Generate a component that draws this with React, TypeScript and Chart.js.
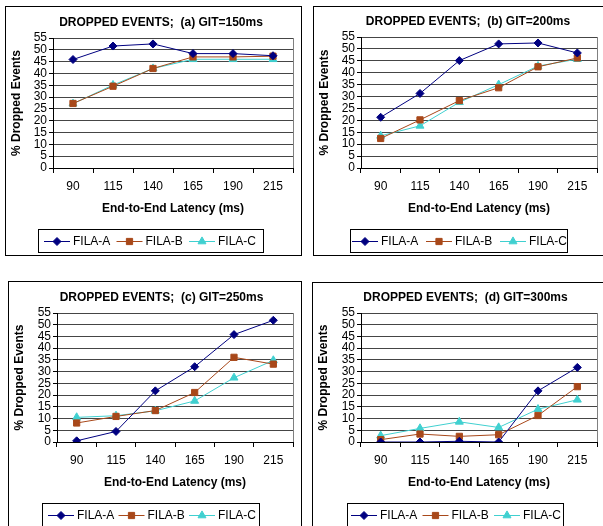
import React, { useEffect, useRef } from 'react';
import { Chart, registerables } from 'chart.js';

Chart.register(...registerables);
Chart.defaults.font.family = '"Liberation Sans", Arial, sans-serif';

// ---------------- data ----------------
const CATEGORIES = ['90', '115', '140', '165', '190', '215'];
const SERIES_NAMES = ['FILA-A', 'FILA-B', 'FILA-C'];
const PANEL_TITLES = [
  'DROPPED EVENTS;  (a) GIT=150ms',
  'DROPPED EVENTS;  (b) GIT=200ms',
  'DROPPED EVENTS;  (c) GIT=250ms',
  'DROPPED EVENTS;  (d) GIT=300ms',
];
const X_TITLE = 'End-to-End Latency (ms)';
const Y_TITLE = '% Dropped Events';
const Y_MIN = 0;
const Y_MAX = 55;
const Y_STEP = 5;

const GIT150_A = [45.9, 51.6, 52.5, 48.4, 48.4, 47.5];
const GIT150_B = [27.3, 34.6, 42.1, 47, 47, 47.3];
const GIT150_C = [27.2, 35.1, 42.1, 46, 46, 46];

const GIT200_A = [21.3, 31.3, 45.1, 52.1, 52.5, 48.3];
const GIT200_B = [12.4, 20.2, 28.3, 33.7, 42.5, 46.2];
const GIT200_C = [13.5, 17.7, 27.6, 35, 42.8, 45.7];

const GIT250_A = [0.5, 4.5, 21.8, 32.1, 45.8, 51.9];
const GIT250_B = [8.1, 10.9, 13.4, 21.1, 36.1, 33.2];
const GIT250_C = [10.5, 11.2, 13.3, 17.5, 27.4, 34.8];

const GIT300_A = [0, 0, 0.3, 0, 21.8, 31.8];
const GIT300_B = [1, 3.4, 2.4, 3.1, 11.3, 23.6];
const GIT300_C = [2.7, 5.8, 8.6, 6.2, 14, 18];

const PANEL_SERIES = [
  [GIT150_A, GIT150_B, GIT150_C],
  [GIT200_A, GIT200_B, GIT200_C],
  [GIT250_A, GIT250_B, GIT250_C],
  [GIT300_A, GIT300_B, GIT300_C],
];

// ---------------- styles & layout ----------------
const SERIES_STYLES = [
  { color: '#000080', pointStyle: 'rectRot', radius: 4 },
  { color: '#A8481A', pointStyle: 'rect', radius: 4.4 },
  { color: '#40D0D0', pointStyle: 'triangle', radius: 4.6 },
];

const PANEL_LAYOUT = [
  { left: 5, top: 6, width: 297, height: 250, plot: { l: 47, r: 287, t: 31, b: 161 }, titleY: 16, titleX: 155,
    legend: { x: 32, y: 222, w: 225, h: 23, text0: 35, stride: 72.5 } },
  { left: 313, top: 6, width: 300, height: 250, plot: { l: 47, r: 283, t: 30, b: 161 }, titleY: 14.7, titleX: 154,
    legend: { x: 36, y: 222, w: 217, h: 23, text0: 31, stride: 74 } },
  { left: 8, top: 281, width: 294, height: 260, plot: { l: 48, r: 284, t: 31, b: 160 }, titleY: 16, titleX: 152.5,
    legend: { x: 33, y: 221, w: 217, h: 23, text0: 35, stride: 70.5 } },
  { left: 312, top: 282, width: 300, height: 260, plot: { l: 48, r: 284, t: 30, b: 159 }, titleY: 15, titleX: 152.5,
    legend: { x: 34, y: 220, w: 216, h: 23, text0: 33, stride: 71.5 } },
];

const CANVAS_H = 248;
const X_SCALE_H = 58;
const FONT_SIZE = 12;

function drawMarker(ctx: CanvasRenderingContext2D, style: string, x: number, y: number, r: number, color: string) {
  ctx.save();
  ctx.fillStyle = color;
  ctx.strokeStyle = color;
  ctx.lineWidth = 1;
  ctx.beginPath();
  if (style === 'rectRot') {
    ctx.moveTo(x - r, y);
    ctx.lineTo(x, y - r);
    ctx.lineTo(x + r, y);
    ctx.lineTo(x, y + r);
    ctx.closePath();
  } else if (style === 'rect') {
    const s = r * Math.SQRT1_2;
    ctx.rect(x - s, y - s, 2 * s, 2 * s);
  } else {
    let rad = 0;
    ctx.moveTo(x + Math.sin(rad) * r, y - Math.cos(rad) * r);
    rad += (2 * Math.PI) / 3;
    ctx.lineTo(x + Math.sin(rad) * r, y - Math.cos(rad) * r);
    rad += (2 * Math.PI) / 3;
    ctx.lineTo(x + Math.sin(rad) * r, y - Math.cos(rad) * r);
    ctx.closePath();
  }
  ctx.fill();
  ctx.stroke();
  ctx.restore();
}

function Panel({ index }: { index: number }) {
  const ref = useRef<HTMLCanvasElement | null>(null);
  const lay = PANEL_LAYOUT[index];
  const canvasW = lay.width - 2;

  useEffect(() => {
    if (!ref.current) return;
    const titleLine = FONT_SIZE * 1.2;
    const padTop = lay.titleY - titleLine / 2;
    const padBottom = lay.plot.t - padTop - titleLine;

    const framePlugin = {
      id: 'plotFrame',
      beforeDatasetsDraw(chart: any) {
        const { ctx, chartArea: a } = chart;
        ctx.save();
        ctx.strokeStyle = '#808080';
        ctx.lineWidth = 1;
        const x = Math.round(a.right) + 0.5;
        ctx.beginPath();
        ctx.moveTo(x, a.top);
        ctx.lineTo(x, a.bottom);
        ctx.stroke();
        ctx.restore();
      },
    };

    const titleShift = {
      id: 'titleShift',
      afterLayout(chart: any) {
        const t = chart.titleBlock;
        if (t) {
          const cur = (t.left + t.right) / 2;
          const dx = lay.titleX - cur;
          t.left += dx;
          t.right += dx;
        }
      },
    };

    const boxLegend = {
      id: 'boxLegend',
      afterDraw(chart: any) {
        const { ctx } = chart;
        const L = lay.legend;
        ctx.save();
        ctx.strokeStyle = '#000';
        ctx.lineWidth = 1;
        ctx.strokeRect(L.x + 0.5, L.y + 0.5, L.w, L.h);
        const cy = Math.round(L.y + L.h / 2) + 0.5;
        chart.data.datasets.forEach((ds: any, i: number) => {
          const tx = L.x + L.text0 + i * L.stride;
          ctx.strokeStyle = ds.borderColor;
          ctx.lineWidth = 1;
          ctx.beginPath();
          ctx.moveTo(tx - 29, cy);
          ctx.lineTo(tx - 3, cy);
          ctx.stroke();
          drawMarker(ctx, ds.pointStyle, tx - 16, cy, ds.pointRadius, ds.backgroundColor);
          ctx.fillStyle = '#000';
          ctx.font = `${FONT_SIZE}px "Liberation Sans", Arial, sans-serif`;
          ctx.textBaseline = 'middle';
          ctx.textAlign = 'left';
          ctx.fillText(ds.label, tx, cy + 0.5);
        });
        ctx.restore();
      },
    };

    const chart = new Chart(ref.current, {
      type: 'line',
      data: {
        labels: CATEGORIES,
        datasets: PANEL_SERIES[index].map((vals, i) => ({
          label: SERIES_NAMES[i],
          data: vals,
          borderColor: SERIES_STYLES[i].color,
          backgroundColor: SERIES_STYLES[i].color,
          pointBackgroundColor: SERIES_STYLES[i].color,
          pointBorderColor: SERIES_STYLES[i].color,
          pointStyle: SERIES_STYLES[i].pointStyle as any,
          pointRadius: SERIES_STYLES[i].radius,
          pointBorderWidth: 1,
          borderWidth: 1,
          tension: 0,
          fill: false,
        })),
      },
      options: {
        responsive: false,
        animation: false,
        devicePixelRatio: 1,
        layout: {
          padding: { left: 0, right: canvasW - lay.plot.r, top: 0, bottom: CANVAS_H - lay.plot.b - X_SCALE_H },
        },
        plugins: {
          legend: { display: false },
          tooltip: { enabled: false },
          title: {
            display: true,
            text: PANEL_TITLES[index],
            color: '#000',
            font: { size: FONT_SIZE, weight: 'bold' },
            padding: { top: padTop, bottom: padBottom },
          },
        },
        scales: {
          x: {
            type: 'category',
            offset: true,
            afterFit: (s: any) => { s.height = X_SCALE_H; },
            grid: {
              display: true,
              drawOnChartArea: false,
              drawTicks: true,
              tickLength: 5,
              offset: true,
              color: '#000',
              tickColor: '#000',
            },
            border: { display: true, color: '#000', width: 1 },
            ticks: { color: '#000', font: { size: FONT_SIZE }, padding: 6.8, maxRotation: 0, autoSkip: false },
            title: {
              display: true,
              text: X_TITLE,
              color: '#000',
              font: { size: FONT_SIZE, weight: 'bold' },
              padding: { top: 0, bottom: 9.8 },
            },
          },
          y: {
            min: Y_MIN,
            max: Y_MAX,
            afterFit: (s: any) => { s.width = lay.plot.l; },
            grid: {
              color: '#454545',
              lineWidth: 1,
              drawTicks: true,
              tickLength: 4,
              tickColor: '#000',
            },
            border: { display: true, color: '#000', width: 1 },
            ticks: { stepSize: Y_STEP, autoSkip: false, color: '#000', font: { size: FONT_SIZE }, padding: 2 },
            title: {
              display: true,
              text: Y_TITLE,
              color: '#000',
              font: { size: FONT_SIZE, weight: 'bold' },
              padding: { top: 3.8, bottom: 0 },
            },
          },
        },
      },
      plugins: [framePlugin, titleShift, boxLegend],
    } as any);
    return () => chart.destroy();
  }, [index]);

  return (
    <div
      style={{
        position: 'absolute',
        left: lay.left,
        top: lay.top,
        width: lay.width,
        height: lay.height,
        border: '1px solid #000',
        boxSizing: 'border-box',
        background: '#fff',
      }}
    >
      <canvas ref={ref} width={canvasW} height={CANVAS_H} style={{ display: 'block', width: canvasW, height: CANVAS_H }} />
    </div>
  );
}

export default function App() {
  return (
    <div
      style={{
        position: 'absolute',
        left: 0,
        top: 0,
        width: 603,
        height: 526,
        overflow: 'hidden',
        background: '#fff',
      }}
    >
      {PANEL_LAYOUT.map((_, i) => (
        <Panel key={i} index={i} />
      ))}
    </div>
  );
}
